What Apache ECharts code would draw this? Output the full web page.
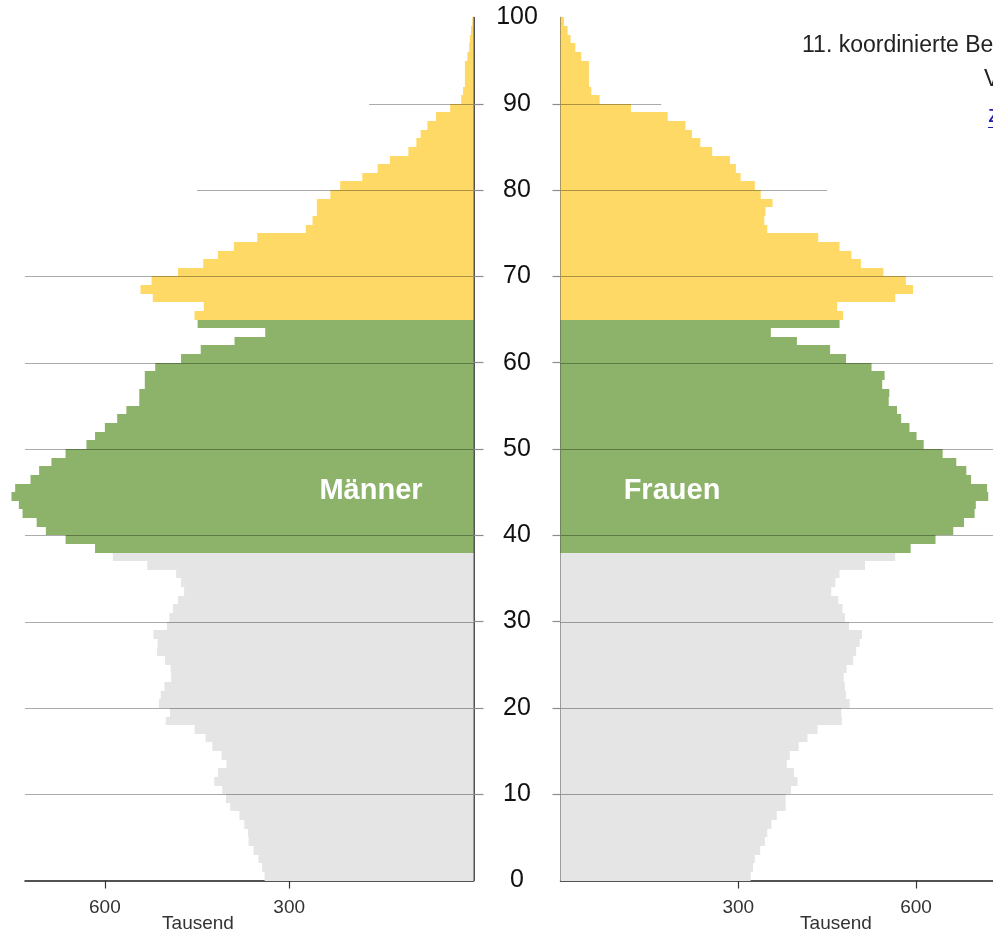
<!DOCTYPE html>
<html><head><meta charset="utf-8">
<script src="https://cdn.jsdelivr.net/npm/echarts@6/dist/echarts.min.js"></script>
<style>html,body{margin:0;padding:0;background:#fff;}#c{width:993px;height:935px;}</style>
</head><body><div id="c"></div>
<script>
// ---- data (thousands of persons per single year of age) ----
const ages = [0,1,2,3,4,5,6,7,8,9,10,11,12,13,14,15,16,17,18,19,20,21,22,23,24,25,26,27,28,29,30,31,32,33,34,35,36,37,38,39,40,41,42,43,44,45,46,47,48,49,50,51,52,53,54,55,56,57,58,59,60,61,62,63,64,65,66,67,68,69,70,71,72,73,74,75,76,77,78,79,80,81,82,83,84,85,86,87,88,89,90,91,92,93,94,95,96,97,98,99];
const men = [340,344,350,358,366,367,373,381,396,403,409,422,416,402,410,425,436,454,501,494,512,509,503,492,493,502,515,514,521,499,495,489,481,471,476,484,531,587,616,664,696,711,734,740,752,746,721,707,687,664,630,616,600,580,565,544,544,535,535,518,476,444,389,339,449,454,439,522,542,524,481,440,416,390,352,273,262,255,255,233,217,181,156,136,106,93,86,75,61,38,20,17,14,14,14,10,7,6,4,2];
const women = [321,325,328,337,345,349,356,365,380,380,389,400,394,382,387,402,417,434,475,474,488,482,480,478,483,494,499,505,509,487,480,476,469,457,464,471,514,565,591,633,663,681,699,701,722,720,693,685,668,645,613,601,589,575,568,554,555,543,547,525,482,455,399,355,471,477,467,565,595,583,545,507,491,471,435,349,344,346,358,338,328,304,296,286,256,236,222,211,181,119,66,52,48,48,48,35,25,17,12,6];
const groupStartAges = [0, 38, 65];
const groupColors = ['#E5E5E5', '#8CB369', '#FFD966'];
const ageTicks = [0,10,20,30,40,50,60,70,80,90,100];
const gridAges = [10,20,30,40,50,60,70,80,90];
const gridReach = [730,730,730,730,730,730,730,450,170];
const valueTicks = [300, 600];

const FONT = '"Liberation Sans", Arial, sans-serif';

function colorFor(age) {
  let c = groupColors[0];
  for (let i = 0; i < groupStartAges.length; i++) if (age >= groupStartAges[i]) c = groupColors[i];
  return c;
}
function barItem(params, api) {
  const v = api.value(0), a = api.value(1);
  const p0 = api.coord([0, a]);
  const p1 = api.coord([v, a + 1]);
  const x = Math.min(p0[0], p1[0]);
  const w = Math.abs(p1[0] - p0[0]);
  const yTop = Math.round(p1[1]), yBot = Math.round(p0[1]);
  return { type: 'rect', shape: { x: x, y: yTop, width: w, height: yBot - yTop },
           style: { fill: colorFor(a) } };
}
function gridItem(params, api) {
  const r = api.value(0), a = api.value(1);
  const p0 = api.coord([0, a]);
  const p1 = api.coord([r, a]);
  const y = Math.round(p0[1]) + 0.5;
  return { type: 'line', shape: { x1: p1[0], y1: y, x2: p0[0], y2: y },
           style: { stroke: 'rgba(0,0,0,0.33)', lineWidth: 1.2 } };
}
const gridData = gridAges.map((a, i) => [gridReach[i], a]);

const axisLineStyle = { color: '#1a1a1a', width: 1.5 };
function xAxisCfg(idx, inverse) {
  return {
    gridIndex: idx, type: 'value', inverse: inverse, min: 0, max: 730,
    axisLine: { show: true, onZero: false, lineStyle: axisLineStyle },
    axisTick: { show: true, length: 8, customValues: valueTicks, lineStyle: { color: '#333', width: 1.2 } },
    axisLabel: { show: true, customValues: valueTicks, fontSize: 19, color: '#333', fontFamily: FONT, margin: 18 },
    splitLine: { show: false }
  };
}

const chart = echarts.init(document.getElementById('c'), null, { renderer: 'canvas' });
chart.setOption({
  backgroundColor: '#ffffff',
  animation: false,
  grid: [
    { left: 25, right: 519.5, top: 17.5, bottom: 54.5 },
    { left: 560.5, right: -15.7, top: 17.5, bottom: 54.5 }
  ],
  xAxis: [ xAxisCfg(0, true), xAxisCfg(1, false) ],
  yAxis: [
    { gridIndex: 0, type: 'value', position: 'right', min: 0, max: 100,
      axisLine: { show: true, lineStyle: axisLineStyle },
      axisTick: { show: true, length: 10, customValues: gridAges, lineStyle: { color: '#8c8c8c', width: 1.2 } },
      axisLabel: { show: false }, splitLine: { show: false } },
    { gridIndex: 1, type: 'value', position: 'left', min: 0, max: 100,
      axisLine: { show: true, lineStyle: axisLineStyle },
      axisTick: { show: true, length: 8, customValues: gridAges, lineStyle: { color: '#8c8c8c', width: 1.2 } },
      axisLabel: { show: true, customValues: ageTicks, fontSize: 25, color: '#111', fontFamily: FONT,
                   align: 'center', margin: 43.5 },
      splitLine: { show: false } }
  ],
  series: [
    { type: 'custom', name: 'Männer', xAxisIndex: 0, yAxisIndex: 0, renderItem: barItem, clip: false, z: 2,
      encode: { x: 0, y: 1 }, data: ages.map((a, i) => [men[i], a]) },
    { type: 'custom', name: 'Frauen', xAxisIndex: 1, yAxisIndex: 1, renderItem: barItem, clip: false, z: 2,
      encode: { x: 0, y: 1 }, data: ages.map((a, i) => [women[i], a]) },
    { type: 'custom', xAxisIndex: 0, yAxisIndex: 0, renderItem: gridItem, clip: false, z: 3,
      encode: { x: 0, y: 1 }, data: gridData, silent: true },
    { type: 'custom', xAxisIndex: 1, yAxisIndex: 1, renderItem: gridItem, clip: false, z: 3,
      encode: { x: 0, y: 1 }, data: gridData, silent: true }
  ],
  graphic: [
    { type: 'text', x: 371, y: 491, z: 10,
      style: { text: 'Männer', fill: '#fff', font: 'bold 29px ' + FONT, textAlign: 'center', textVerticalAlign: 'middle' } },
    { type: 'text', x: 672, y: 491, z: 10,
      style: { text: 'Frauen', fill: '#fff', font: 'bold 29px ' + FONT, textAlign: 'center', textVerticalAlign: 'middle' } },
    { type: 'text', x: 198, y: 924, z: 10,
      style: { text: 'Tausend', fill: '#333', font: '19px ' + FONT, textAlign: 'center', textVerticalAlign: 'middle' } },
    { type: 'text', x: 836, y: 924, z: 10,
      style: { text: 'Tausend', fill: '#333', font: '19px ' + FONT, textAlign: 'center', textVerticalAlign: 'middle' } },
    { type: 'text', x: 802, y: 46, z: 10,
      style: { text: '11. koordinierte Bevölkerungsvorausberechnung', fill: '#222', font: '23px ' + FONT, textAlign: 'left', textVerticalAlign: 'middle' } },
    { type: 'text', x: 984, y: 80, z: 10,
      style: { text: 'Variante 1-W1', fill: '#222', font: '23px ' + FONT, textAlign: 'left', textVerticalAlign: 'middle' } },
    { type: 'text', x: 988, y: 116, z: 10,
      style: { text: 'zur Übersicht', fill: '#1f1fa8', font: '23px ' + FONT, textAlign: 'left', textVerticalAlign: 'middle' } },
    { type: 'line', z: 10, shape: { x1: 988, y1: 127.5, x2: 1120, y2: 127.5 }, style: { stroke: '#1f1fa8', lineWidth: 1 } }
  ]
});
</script></body></html>
